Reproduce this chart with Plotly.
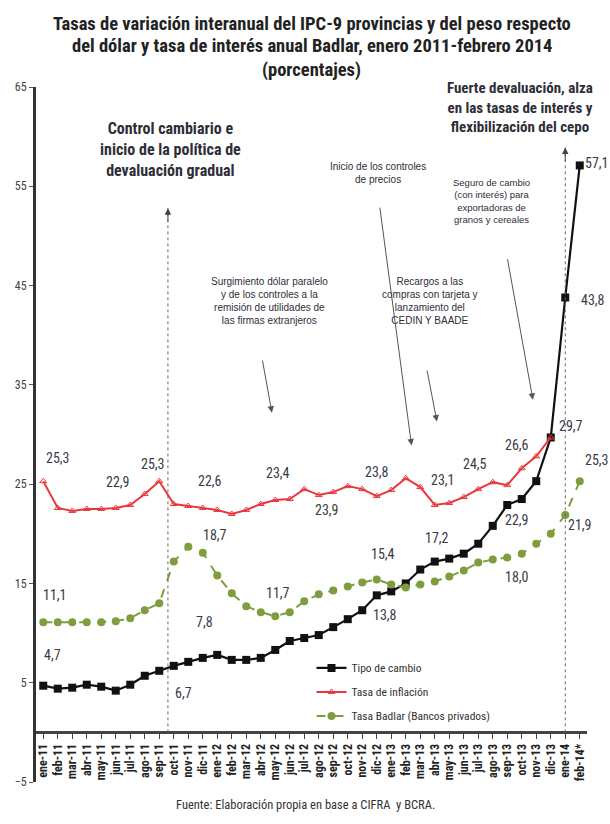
import plotly.graph_objects as go

# Month labels on the category axis
periodos = [
    "ene-11", "feb-11", "mar-11", "abr-11", "may-11", "jun-11", "jul-11", "ago-11",
    "sep-11", "oct-11", "nov-11", "dic-11",
    "ene-12", "feb-12", "mar-12", "abr-12", "may-12", "jun-12", "jul-12", "ago-12",
    "sep-12", "oct-12", "nov-12", "dic-12",
    "ene-13", "feb-13", "mar-13", "abr-13", "may-13", "jun-13", "jul-13", "ago-13",
    "sep-13", "oct-13", "nov-13", "dic-13",
    "ene-14", "feb-14*",
]

# Year-on-year variation (%) of the peso against the dollar
tipo_cambio = [
    4.7, 4.4, 4.5, 4.8, 4.6, 4.2, 4.8, 5.7, 6.2, 6.7, 7.1, 7.5,
    7.8, 7.3, 7.3, 7.5, 8.3, 9.2, 9.5, 9.8, 10.6, 11.4, 12.3, 13.8,
    14.2, 15.0, 16.4, 17.2, 17.5, 18.0, 19.0, 20.8, 22.9, 23.5, 25.3, 29.7,
    43.8, 57.1,
]

# Year-on-year inflation, IPC-9 provincias (%)
inflacion = [
    25.3, 22.6, 22.3, 22.5, 22.5, 22.6, 22.9, 24.0, 25.3, 23.0, 22.8, 22.6,
    22.4, 22.0, 22.4, 23.0, 23.4, 23.5, 24.5, 23.9, 24.2, 24.8, 24.5, 23.8,
    24.4, 25.6, 24.7, 22.9, 23.1, 23.7, 24.5, 25.2, 24.9, 26.6, 27.8, 29.7,
    None, None,
]

# Annual Badlar rate, private banks (%)
badlar = [
    11.1, 11.1, 11.1, 11.1, 11.1, 11.2, 11.5, 12.3, 13.0, 17.2, 18.7, 18.1,
    15.8, 14.0, 12.7, 12.1, 11.7, 12.1, 13.2, 13.9, 14.3, 14.7, 15.1, 15.4,
    14.9, 14.6, 14.9, 15.2, 15.7, 16.3, 17.1, 17.4, 17.6, 18.0, 19.0, 20.0,
    21.9, 25.3,
]

# Which points carry a value label: (series, index, dx px, dy px)
etiquetas = [
    ("tc", 0, 9, 31), ("tc", 9, 10, -27), ("tc", 12, -13, 33), ("tc", 23, 8, -20),
    ("tc", 27, 2, 24), ("tc", 32, 10, -15), ("tc", 35, 20, 11), ("tc", 36, 28, -3),
    ("tc", 37, 17, 2),
    ("inf", 0, 15, 23), ("inf", 6, -12, 23), ("inf", 8, -6, 17), ("inf", 11, 7, 27),
    ("inf", 16, 3, 27), ("inf", 19, 8, -15), ("inf", 23, 0, 24), ("inf", 28, -6, 23),
    ("inf", 30, -3, 25), ("inf", 33, -5, 23),
    ("bad", 0, 12, 27), ("bad", 10, 27, 12), ("bad", 16, 3, 23), ("bad", 23, 6, 25),
    ("bad", 33, -5, -23), ("bad", 36, 15, -10), ("bad", 37, 17, 21),
]

NARROW = "Liberation Sans Narrow, Arial Narrow, Roboto Condensed, Liberation Sans, sans-serif"
REGULAR = "Liberation Sans, Arial, sans-serif"
series = {"tc": tipo_cambio, "inf": inflacion, "bad": badlar}

fig = go.Figure()

fig.add_trace(go.Scatter(
    x=periodos, y=tipo_cambio, name="Tipo de cambio", mode="lines+markers",
    line=dict(color="#111111", width=2.2),
    marker=dict(symbol="square", size=8, color="#111111"),
    legendgroup="a",
))
fig.add_trace(go.Scatter(
    x=periodos, y=inflacion, name="Tasa de inflación", mode="lines+markers",
    line=dict(color="#e8383d", width=2),
    marker=dict(symbol="triangle-up-open", size=6, color="#e8383d", line=dict(width=1)),
    legendgroup="b",
))
fig.add_trace(go.Scatter(
    x=periodos, y=badlar, name="Tasa Badlar (Bancos privados)", mode="lines+markers",
    line=dict(color="#7f9d3e", width=2, dash="dash"),
    marker=dict(symbol="circle", size=8, color="#7f9d3e"),
    legendgroup="c",
))

anns = []

# value labels
for key, i, dx, dy in etiquetas:
    v = series[key][i]
    anns.append(dict(
        x=i, y=v, xref="x", yref="y", text=f"{v:.1f}".replace(".", ","),
        showarrow=False, xshift=dx, yshift=dy,
        font=dict(family=NARROW, size=14, color="#3a3a48"),
    ))


def paper_y(py):
    """Pixel row on the page -> paper fraction of the plot area."""
    return (782 - py) / 695


# title lines
titulo = [
    ("Tasas de variación interanual del IPC-9 provincias y del peso respecto", 24),
    ("del dólar y tasa de interés anual Badlar, enero 2011-febrero 2014", 46),
    ("(porcentajes)", 70),
]
for txt, py in titulo:
    anns.append(dict(
        x=0.5, xref="paper", y=paper_y(py), yref="paper", yanchor="middle",
        text=f"<b>{txt}</b>", showarrow=False,
        font=dict(family=NARROW, size=18.5, color="#222222"),
    ))

# event notes
notas = [
    ("<b>Control cambiario e<br>inicio de la política de<br>devaluación gradual</b>", 8.75, 58.7, NARROW, 16),
    ("Surgimiento dólar paralelo<br>y de los controles a la<br>remisión de utilidades de<br>las firmas extranjeros", 15.6, 43.4, REGULAR, 10),
    ("Inicio de los controles<br>de precios", 23.1, 56.3, REGULAR, 10),
    ("Recargos a las<br>compras con tarjeta y<br>lanzamiento del<br>CEDIN Y BAADE", 26.7, 43.4, REGULAR, 10),
    ("Seguro de cambio<br>(con interés) para<br>exportadoras de<br>granos y cereales", 30.9, 53.5, REGULAR, 9.5),
    ("<b>Fuerte devaluación, alza<br>en las tasas de interés y<br>flexibilización del cepo</b>", 32.9, 62.9, NARROW, 15),
]
for txt, x, y, fam, s in notas:
    anns.append(dict(
        x=x, y=y, xref="x", yref="y", text=txt, showarrow=False,
        font=dict(family=fam, size=s, color="#2e2e38"), align="center",
    ))

# arrows pointing at the series
flechas = [
    (15.1, 37.6, 15.77, 32.2),
    (23.2, 53.0, 25.4, 28.9),
    (26.45, 36.6, 27.15, 31.3),
    (32.0, 47.8, 33.77, 33.5),
]
for x0, y0, x1, y1 in flechas:
    anns.append(dict(
        x=x1, y=y1, ax=x0, ay=y0, xref="x", yref="y", axref="x", ayref="y",
        text="", showarrow=True, arrowhead=2, arrowsize=1.3, arrowwidth=1,
        arrowcolor="#555555",
    ))

# dotted vertical event lines with arrowheads on top
verticales = [(8.6, 52.8), (36.0, 58.9)]
shapes = []
for x, ytop in verticales:
    shapes.append(dict(
        type="line", xref="x", yref="y", x0=x, x1=x, y0=0, y1=ytop,
        line=dict(color="#666666", width=1, dash="dot"),
    ))
    anns.append(dict(
        x=x, y=ytop, ax=x, ay=ytop - 1.5, xref="x", yref="y", axref="x", ayref="y",
        text="", showarrow=True, arrowhead=2, arrowsize=1.3, arrowwidth=1,
        arrowcolor="#444444",
    ))

# source note
anns.append(dict(
    x=0.49, xref="paper", y=paper_y(814), yref="paper",
    text="Fuente: Elaboración propia en base a CIFRA  y BCRA.", showarrow=False,
    font=dict(family=NARROW, size=12.5, color="#333333"),
))

fig.update_layout(
    width=610, height=824,
    margin=dict(l=36, r=23, t=87, b=42),
    paper_bgcolor="white", plot_bgcolor="white",
    font=dict(family=NARROW, color="#333333"),
    showlegend=True,
    legend=dict(
        x=0.50, y=0.185, xanchor="left", yanchor="top",
        font=dict(family=NARROW, size=11.5, color="#333333"),
        bgcolor="rgba(0,0,0,0)", tracegroupgap=5, itemwidth=30,
    ),
    annotations=anns,
    shapes=shapes,
)

fig.update_yaxes(
    range=[-5, 65], tickvals=[-5, 5, 15, 25, 35, 45, 55, 65],
    showgrid=False, zeroline=False,
    showline=True, linecolor="#333333", linewidth=3,
    ticks="outside", ticklen=4, tickcolor="#555555",
    tickfont=dict(family=NARROW, size=12, color="#444444"),
)
fig.update_xaxes(
    type="category", range=[-0.5, 37.5], dtick=1,
    anchor="free", position=5 / 70,
    showgrid=False, showline=True, linecolor="#444444", linewidth=2.5,
    ticks="outside", ticklen=5, tickcolor="#444444",
    tickangle=-90,
    tickfont=dict(family=NARROW, size=12, color="#222222", weight="bold"),
)

fig.write_html("out.html")
